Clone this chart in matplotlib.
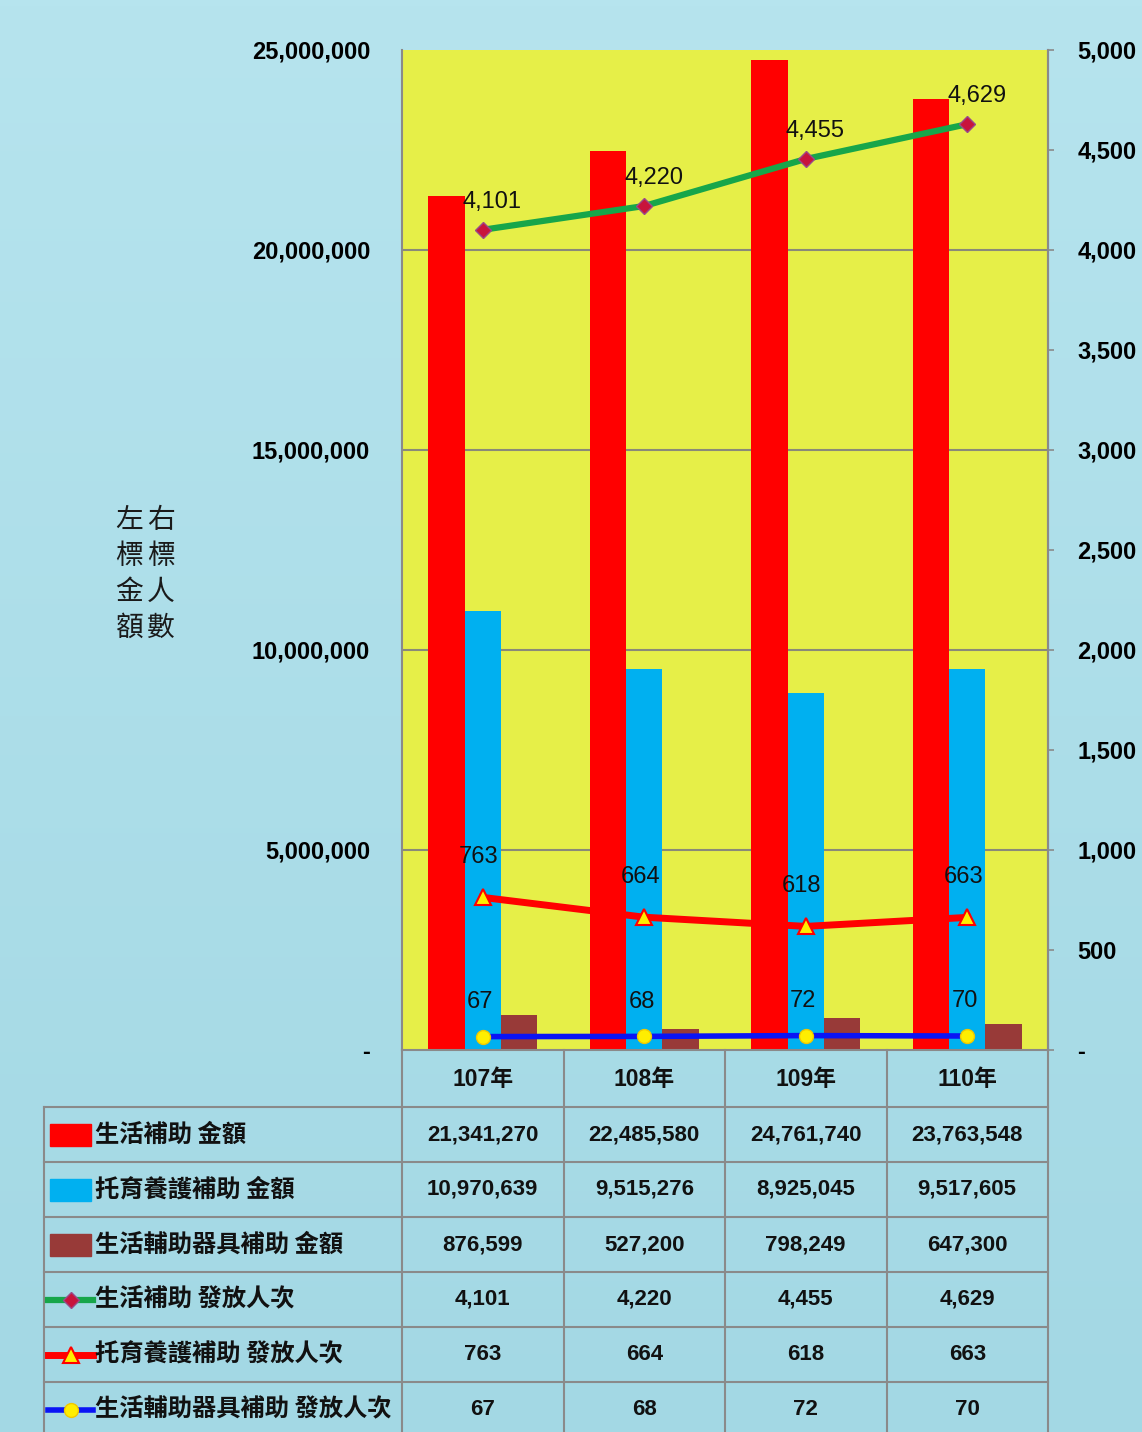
import numpy as np
import matplotlib

matplotlib.use("Agg")
import matplotlib.pyplot as plt
from matplotlib.patches import Rectangle

# ---- data ----
YEARS = ["107年", "108年", "109年", "110年"]
LIVING_AMT = [21341270, 22485580, 24761740, 23763548]
CARE_AMT = [10970639, 9515276, 8925045, 9517605]
AID_AMT = [876599, 527200, 798249, 647300]
LIVING_CNT = [4101, 4220, 4455, 4629]
CARE_CNT = [763, 664, 618, 663]
AID_CNT = [67, 68, 72, 70]

ROW_NAMES = ["生活補助 金額", "托育養護補助 金額", "生活輔助器具補助 金額",
             "生活補助 發放人次", "托育養護補助 發放人次", "生活輔助器具補助 發放人次"]
LEFT_TICKS = [0, 5000000, 10000000, 15000000, 20000000, 25000000]
RIGHT_TICKS = [0, 500, 1000, 1500, 2000, 2500, 3000, 3500, 4000, 4500, 5000]

# ---- style ----
W, H = 1142, 1432
BG = "#addfe9"
PLOT_BG = "#e6ef48"
RED = "#ff0000"
SKY = "#00b0f0"
BROWN = "#983a38"
GREEN = "#17a64a"
BLUE = "#0a14f5"
YEL = "#ffee00"
GRID = "#8a8a78"
EDGE = "#8a8a8a"

NUM = ["Liberation Sans", "DejaVu Sans"]
CJK = ["Noto Sans CJK TC", "DejaVu Sans"]
MIX = ["Liberation Sans", "Noto Sans CJK TC"]

# plot area in pixels
PL, PR, PT, PB = 402, 1048, 50, 1050

fig = plt.figure(figsize=(W / 100, H / 100), dpi=100)
fig.patch.set_facecolor(BG)

# soft background gradient
bg = fig.add_axes([0, 0, 1, 1], zorder=0)
grad = np.linspace(0, 1, 256).reshape(-1, 1)
bg.imshow(grad, aspect="auto", extent=[0, 1, 0, 1],
          cmap=matplotlib.colors.LinearSegmentedColormap.from_list(
              "w", ["#b6e4ee", "#a3d8e4"]))
bg.axis("off")

ax = fig.add_axes([PL / W, 1 - PB / H, (PR - PL) / W, (PB - PT) / H], zorder=1)
ax.set_facecolor(PLOT_BG)
x = np.arange(len(YEARS))
bw = 0.224
ax.bar(x - bw, LIVING_AMT, bw, color=RED, zorder=2)
ax.bar(x, CARE_AMT, bw, color=SKY, zorder=2)
ax.bar(x + bw, AID_AMT, bw, color=BROWN, zorder=2)
ax.set_xlim(-0.5, len(YEARS) - 0.5)
ax.set_ylim(LEFT_TICKS[0], LEFT_TICKS[-1])
for t in LEFT_TICKS[1:-1]:
    ax.axhline(t, color=GRID, lw=1.5, zorder=1)
ax.set_xticks([])
ax.set_yticks(LEFT_TICKS)
ax.set_yticklabels([f"{v:,}" if v else "-" for v in LEFT_TICKS],
                   family=NUM, fontweight="bold", fontsize=17)
ax.tick_params(axis="y", length=0, pad=23)
ax.spines["top"].set_visible(False)
for s in ["left", "right", "bottom"]:
    ax.spines[s].set_color(EDGE)
    ax.spines[s].set_linewidth(1.5)

ax2 = ax.twinx()
ax2.set_zorder(2)
ax2.patch.set_visible(False)
ax2.set_ylim(RIGHT_TICKS[0], RIGHT_TICKS[-1])
ax2.set_yticks(RIGHT_TICKS)
ax2.set_yticklabels([f"{v:,}" if v else "-" for v in RIGHT_TICKS],
                    family=NUM, fontweight="bold", fontsize=17)
ax2.tick_params(axis="y", length=4, width=1.2, color=EDGE, pad=17)
for s in ["top", "left", "bottom"]:
    ax2.spines[s].set_visible(False)
ax2.spines["right"].set_color(EDGE)
ax2.spines["right"].set_linewidth(1.5)

ax2.plot(x, LIVING_CNT, color=GREEN, lw=4.5, marker="D", ms=8,
         mfc="#c8143c", mec="#9a4a8a", mew=1, zorder=5)
ax2.plot(x, CARE_CNT, color=RED, lw=5, marker="^", ms=11,
         mfc=YEL, mec=RED, mew=1.5, zorder=5)
ax2.plot(x, AID_CNT, color=BLUE, lw=4, marker="o", ms=10,
         mfc=YEL, mec="#f0c800", mew=1, zorder=5)

for vals, off in [(LIVING_CNT, (7, 20)), (CARE_CNT, (-3, 29)), (AID_CNT, (-2, 25))]:
    for xi, v in zip(x, vals):
        ax2.annotate(f"{v:,}", (xi, v), xytext=off, textcoords="offset points",
                     ha="center", va="center", family=NUM, fontsize=17,
                     color="#111111", zorder=6)

# ---- overlay in pixel coordinates: vertical titles + data table ----
lay = fig.add_axes([0, 0, 1, 1], zorder=3)
lay.set_xlim(0, W)
lay.set_ylim(H, 0)
lay.axis("off")
lay.patch.set_visible(False)

for cx, word in [(129, "左標金額"), (161, "右標人數")]:
    for i, ch in enumerate(word):
        lay.text(cx, 520 + i * 36, ch, family=CJK, fontsize=20,
                 ha="center", va="center", color="#1a1a1a")

ncol = len(YEARS)
cw = (PR - PL) / ncol
col_edges = [PL + i * cw for i in range(ncol + 1)]
col_cent = [PL + (i + 0.5) * cw for i in range(ncol)]
TL = 44
row_top = 1107
rh = 55

for xe in col_edges:
    lay.plot([xe, xe], [PB, H], color=EDGE, lw=1.5)
lay.plot([TL, TL], [row_top, H], color=EDGE, lw=1.5)
for i in range(len(ROW_NAMES)):
    yl = row_top + i * rh
    lay.plot([TL, PR], [yl, yl], color=EDGE, lw=1.5)
for cx, yr in zip(col_cent, YEARS):
    lay.text(cx, 1080, yr, family=MIX, fontweight="bold", fontsize=16.5,
             ha="center", va="center", color="#111111")

rows = [LIVING_AMT, CARE_AMT, AID_AMT, LIVING_CNT, CARE_CNT, AID_CNT]
for i, (name, vals) in enumerate(zip(ROW_NAMES, rows)):
    cy = row_top + (i + 0.5) * rh
    if i == 0:
        lay.add_patch(Rectangle((50, cy - 11), 41, 22, color=RED))
    elif i == 1:
        lay.add_patch(Rectangle((50, cy - 11), 41, 22, color=SKY))
    elif i == 2:
        lay.add_patch(Rectangle((50, cy - 11), 41, 22, color=BROWN))
    elif i == 3:
        lay.plot([48, 93], [cy, cy], color=GREEN, lw=4.5)
        lay.plot([70.5], [cy], marker="D", ms=8, mfc="#c8143c", mec="#9a4a8a")
    elif i == 4:
        lay.plot([48, 93], [cy, cy], color=RED, lw=5)
        lay.plot([70.5], [cy], marker="^", ms=11, mfc=YEL, mec=RED, mew=1.5)
    else:
        lay.plot([48, 93], [cy, cy], color=BLUE, lw=4)
        lay.plot([70.5], [cy], marker="o", ms=10, mfc=YEL, mec="#f0c800")
    lay.text(95, cy, name, family=CJK, fontweight="bold", fontsize=17.5,
             ha="left", va="center", color="#111111")
    for cx, v in zip(col_cent, vals):
        lay.text(cx, cy, f"{v:,}", family=NUM, fontweight="bold", fontsize=16,
                 ha="center", va="center", color="#111111")

fig.savefig("out.png", dpi=100, facecolor=BG)
